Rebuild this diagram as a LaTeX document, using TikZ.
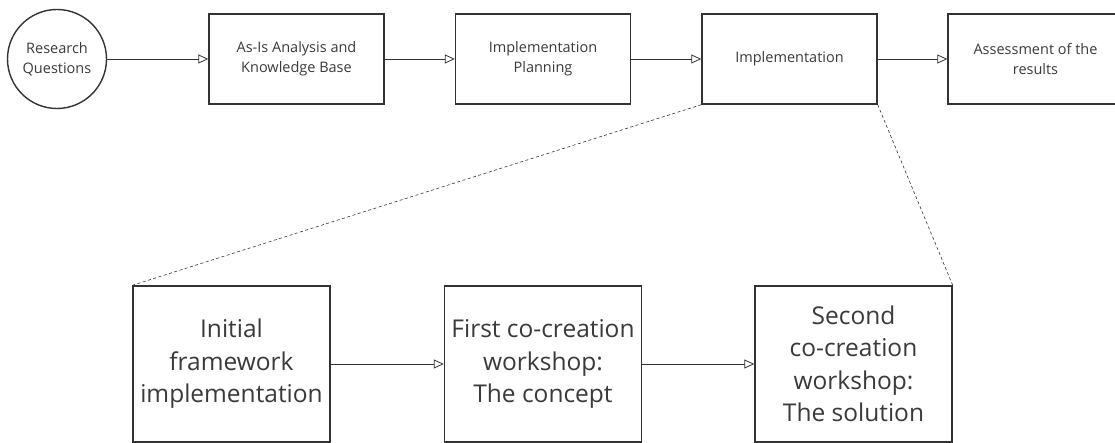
\documentclass[tikz,border=0pt]{standalone}
\usepackage{fontspec}
\setmainfont{Open Sans}
\usetikzlibrary{arrows.meta}
\definecolor{ink}{HTML}{333333}
\definecolor{txt}{HTML}{3A3A3A}
\begin{document}
\begin{tikzpicture}[x=1pt,y=-1pt,
  stage/.style={draw=ink,line width=1.4pt,rectangle,minimum width=175pt,minimum height=90pt,
    align=center,font=\fontsize{14.5}{20}\selectfont,text=txt,inner sep=0pt},
  startnode/.style={draw=ink,line width=1.4pt,circle,minimum size=99pt,
    align=center,font=\fontsize{14.5}{20}\selectfont,text=txt,inner sep=0pt},
  detail/.style={draw=ink,line width=1.4pt,rectangle,minimum width=197pt,minimum height=156pt,
    align=center,font=\fontsize{24.5}{32.5}\selectfont,text=txt,inner sep=0pt},
  flow/.style={draw=ink,line width=0.8pt,-{Triangle[open,length=10pt,width=9pt]}},
  zoomline/.style={draw=ink,line width=0.6pt,dash pattern=on 3pt off 2.5pt}]
\useasboundingbox (0,0) rectangle (1115,443);
\clip (0,0) rectangle (1115,443);
% main process
\node[startnode] (rq) at (57,59) {Research\\Questions};
\node[stage] (asis) at (296.5,59) {As-Is Analysis and\\Knowledge Base};
\node[stage] (plan) at (543,59) {Implementation\\Planning};
\node[stage] (impl) at (789.5,59) {Implementation};
\node[stage] (assess) at (1035.5,59) {Assessment of the\\results};
\draw[flow] (rq) -- (asis);
\draw[flow] (asis) -- (plan);
\draw[flow] (plan) -- (impl);
\draw[flow] (impl) -- (assess);
% implementation detail
\node[detail] (init) at (231.5,364) {Initial\\framework\\implementation};
\node[detail] (first) at (543,364) {First co-creation\\workshop:\\The concept};
\node[detail] (second) at (853.5,364) {Second\\co-creation\\workshop:\\The solution};
\draw[flow] (init) -- (first);
\draw[flow] (first) -- (second);
\draw[zoomline] (impl.south west) -- (init.north west);
\draw[zoomline] (impl.south east) -- (second.north east);
\end{tikzpicture}
\end{document}
